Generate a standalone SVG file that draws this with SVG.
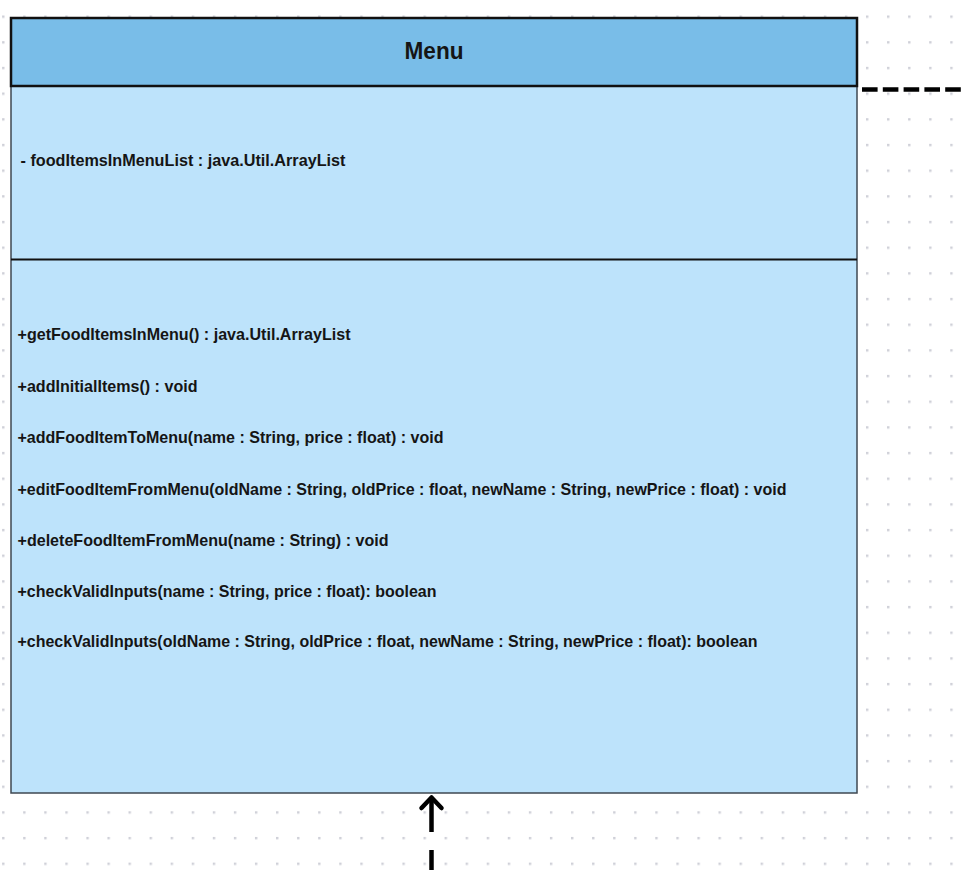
<svg xmlns="http://www.w3.org/2000/svg" width="966" height="876" viewBox="0 0 966 876">
  <style>
    .t { font-family: "Liberation Sans", Arial, sans-serif; font-weight: bold; font-size: 17px; fill: #151515; }
    .title { font-family: "Liberation Sans", Arial, sans-serif; font-weight: bold; font-size: 24px; fill: #151515; }
    .dash { fill: none; stroke: #000; stroke-width: 4.5; }
  </style>
  <defs>
    <pattern id="dots" patternUnits="userSpaceOnUse" x="2.1" y="15.5" width="21.07" height="25.67">
      <rect x="0" y="0" width="2.4" height="2.4" fill="#cfd0d8"/>
    </pattern>
  </defs>
  <rect width="966" height="876" fill="#ffffff"/>
  <rect width="966" height="876" fill="url(#dots)"/>

  <g id="menu">
    <rect x="11" y="86" width="846" height="707" fill="#bde3fb" stroke="#3f4852" stroke-width="1.5"/>
    <rect x="11" y="18" width="846" height="68" fill="#79bde8" stroke="#111" stroke-width="2.5"/>
    <line x1="11" y1="259.5" x2="857" y2="259.5" stroke="#111" stroke-width="2.2"/>
    <text class="title" x="434" y="58.5" text-anchor="middle" textLength="59" lengthAdjust="spacingAndGlyphs">Menu</text>
    <text class="t" x="20.5" y="165.5" textLength="325" lengthAdjust="spacingAndGlyphs">- foodItemsInMenuList : java.Util.ArrayList</text>
    <text class="t" x="17.5" y="340" textLength="333" lengthAdjust="spacingAndGlyphs">+getFoodItemsInMenu() : java.Util.ArrayList</text>
    <text class="t" x="17.5" y="391.5" textLength="180" lengthAdjust="spacingAndGlyphs">+addInitialItems() : void</text>
    <text class="t" x="17.5" y="443" textLength="426" lengthAdjust="spacingAndGlyphs">+addFoodItemToMenu(name : String, price : float) : void</text>
    <text class="t" x="17.5" y="494.5" textLength="769" lengthAdjust="spacingAndGlyphs">+editFoodItemFromMenu(oldName : String, oldPrice : float, newName : String, newPrice : float) : void</text>
    <text class="t" x="17.5" y="546" textLength="371" lengthAdjust="spacingAndGlyphs">+deleteFoodItemFromMenu(name : String) : void</text>
    <text class="t" x="17.5" y="596.5" textLength="419" lengthAdjust="spacingAndGlyphs">+checkValidInputs(name : String, price : float): boolean</text>
    <text class="t" x="17.5" y="647" textLength="740" lengthAdjust="spacingAndGlyphs">+checkValidInputs(oldName : String, oldPrice : float, newName : String, newPrice : float): boolean</text>
  </g>

  <g id="connectors">
    <line class="dash" x1="862" y1="89.5" x2="961" y2="89.5" stroke-dasharray="15.6 5.2"/>
    <line class="dash" x1="431.5" y1="870" x2="431.5" y2="812" stroke-dasharray="20 18"/>
    <polyline class="dash" points="421.5,808 431.5,797.5 441.5,808" stroke-linejoin="round" stroke-linecap="round"/>
    <line class="dash" x1="431.5" y1="798" x2="431.5" y2="812"/>
  </g>
</svg>
